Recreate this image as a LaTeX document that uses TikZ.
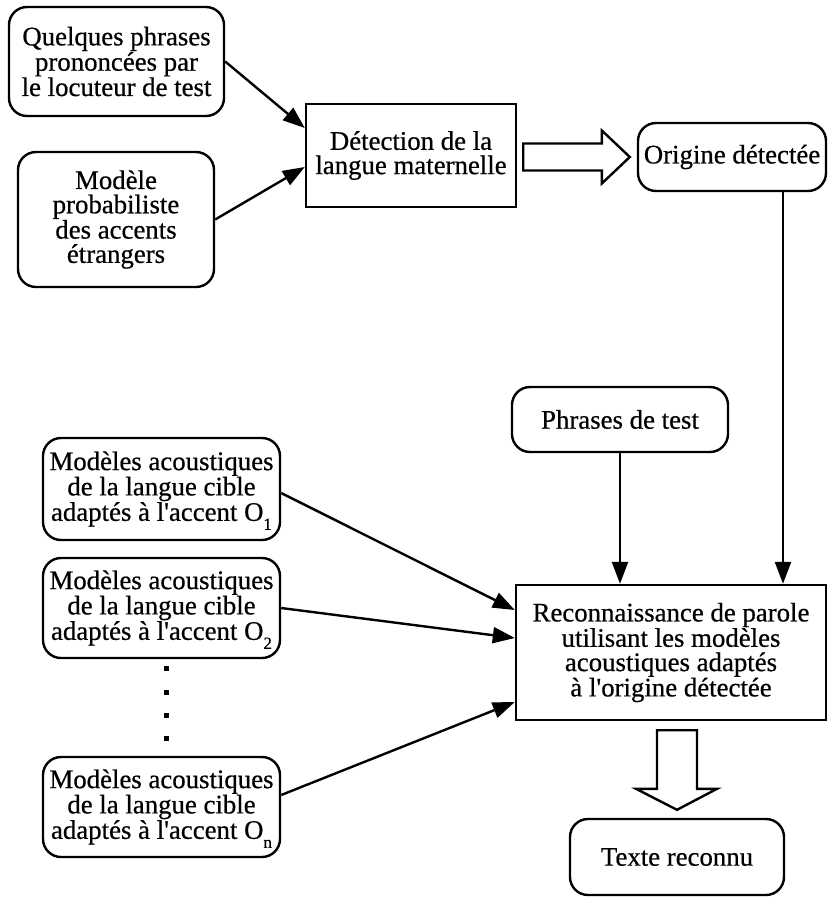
\documentclass[tikz,border=0pt]{standalone}
\usepackage{fontspec}
\setmainfont{Liberation Serif}[Ligatures=TeXOff,FakeBold=0.6]
\usetikzlibrary{arrows.meta,calc}
\newcommand\subidx[1]{\raisebox{-9pt}[0pt][0pt]{\fontsize{17}{17}\selectfont #1}}
\begin{document}
\begin{tikzpicture}[x=1pt,y=-1pt,
  every node/.style={font=\fontsize{26.8}{24.3}\selectfont, align=center, inner sep=0pt, line width=2.4pt},
  rbox/.style={draw, rounded corners=18pt},
  sbox/.style={draw},
  conn/.style={line width=2.4pt, -{Triangle[length=22pt,width=16pt]}},
  hollow/.style={draw, line width=2.4pt, fill=white, line join=miter}]
\useasboundingbox (0,0) rectangle (828,898);

\node[rbox, minimum width=215pt, minimum height=109pt] (Q) at (116.5,61.5) {Quelques phrases\\prononcées par\\le locuteur de test};
\node[rbox, minimum width=196pt, minimum height=135pt] (M) at (116,219.5) {Modèle\\probabiliste\\des accents\\étrangers};
\node[sbox, minimum width=210pt, minimum height=103pt] (D) at (411,155.5) {Détection de la\\langue maternelle};
\node[rbox, minimum width=188pt, minimum height=68pt] (Orig) at (732,157) {Origine détectée};
\node[rbox, minimum width=216pt, minimum height=65pt] (P) at (620,419.5) {Phrases de test};
\node[sbox, minimum width=310pt, minimum height=135pt] (Reco) at (671,652.5) {Reconnaissance de parole\\utilisant les modèles\\acoustiques adaptés\\à l'origine détectée};
\node[rbox, minimum width=214pt, minimum height=76pt] (Texte) at (677,857) {Texte reconnu};
\node[rbox, minimum width=237pt, minimum height=102pt] (O1) at (161.5,489) {Modèles acoustiques\\de la langue cible\\adaptés à l'accent O\subidx{1}};
\node[rbox, minimum width=237pt, minimum height=100pt] (O2) at (161.5,608) {Modèles acoustiques\\de la langue cible\\adaptés à l'accent O\subidx{2}};
\node[rbox, minimum width=237pt, minimum height=100pt] (On) at (161.5,807) {Modèles acoustiques\\de la langue cible\\adaptés à l'accent O\subidx{n}};

\foreach \yy in {668.5,692,715,738.5}
  \fill (163.5,\yy-2.5) rectangle (168.5,\yy+2.5);

\draw[conn] (Q.east) -- ([yshift=27.5pt]D.west);
\draw[conn] (M.east) -- ([yshift=-11.5pt]D.west);
\draw[conn] ([xshift=51pt]Orig.south) -- ([xshift=51pt]Orig.south |- Reco.north);
\draw[conn] (P.south) -- (P.south |- Reco.north);
\draw[conn] ([yshift=-4pt]O1.east) -- ([yshift=42.5pt]Reco.west);
\draw[conn] (O2.east) -- ([yshift=14.5pt]Reco.west);
\draw[conn] ([yshift=12pt]On.east) -- ([yshift=-49.5pt]Reco.west);

\coordinate (ha) at ($(Orig.west)+(-7,0)$);
\draw[hollow] ($(D.east |- ha)+(6,-13.5)$) -- ($(ha)+(-28,-13.5)$) -- ($(ha)+(-28,-26.5)$) -- (ha)
  -- ($(ha)+(-28,26.5)$) -- ($(ha)+(-28,13.5)$) -- ($(D.east |- ha)+(6,13.5)$) -- cycle;

\coordinate (hb) at ($(Texte.north)+(0,-8)$);
\draw[hollow] ($(hb |- Reco.south)+(-20,9)$) -- ($(hb |- Reco.south)+(20,9)$) -- ($(hb)+(20,-21)$)
  -- ($(hb)+(40,-21)$) -- (hb) -- ($(hb)+(-41,-21)$) -- ($(hb)+(-20,-21)$) -- cycle;
\end{tikzpicture}
\end{document}
